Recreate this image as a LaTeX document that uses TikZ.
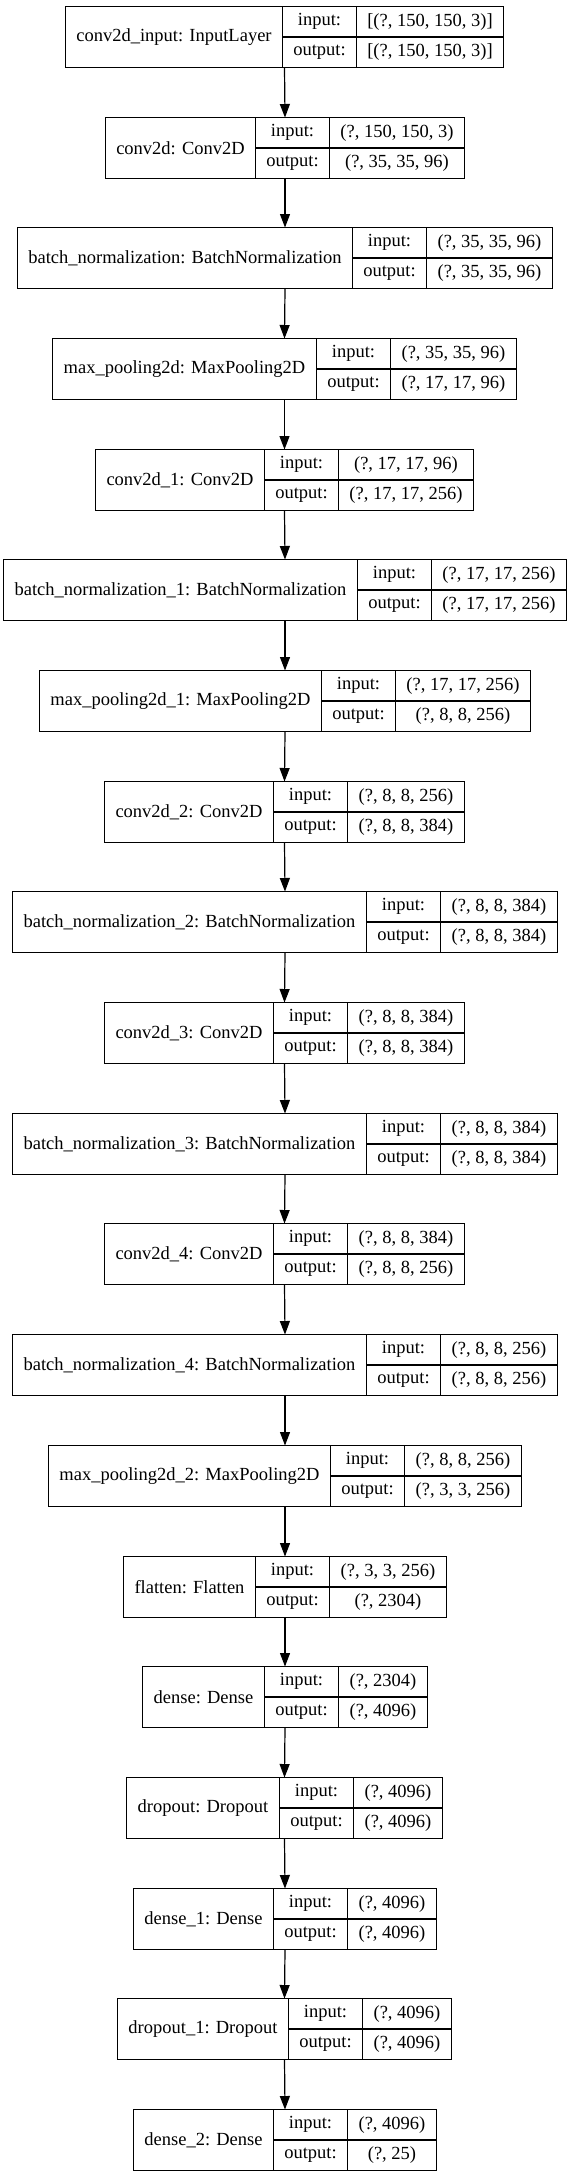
\documentclass[tikz,border=0pt]{standalone}
\usepackage{fontspec}
\setmainfont{Liberation Serif}
\usetikzlibrary{arrows.meta,fit}
\newlength\lwA \newlength\lwB \newlength\lwC \newlength\lwT
\newcommand\lfont{\fontsize{18.5}{22}\selectfont}
\tikzset{
  cell/.style={draw=black, line width=1.2pt, inner sep=0pt, outer sep=0pt, font=\lfont, text=black},
  arr/.style={line width=1.2pt, -{Triangle[length=13.5pt, width=10pt]}},
}
\newcommand\measurelayer[5]{%
 \settowidth\lwA{\lfont #3}\addtolength\lwA{22pt}%
 \settowidth\lwB{\lfont output:}\addtolength\lwB{22pt}%
 \settowidth\lwC{\lfont #4}\settowidth\lwT{\lfont #5}%
 \ifdim\lwT>\lwC \lwC=\lwT\fi \addtolength\lwC{22pt}%
 \expandafter\xdef\csname #1wA\endcsname{\the\lwA}%
 \expandafter\xdef\csname #1wB\endcsname{\the\lwB}%
 \expandafter\xdef\csname #1wC\endcsname{\the\lwC}%
}
\newcommand\drawlayer[5]{%
 \pgfmathsetmacro\wa{round(\csname #1wA\endcsname)}%
 \pgfmathsetmacro\wb{round(\csname #1wB\endcsname)}%
 \pgfmathsetmacro\wc{round(\csname #1wC\endcsname)}%
 \pgfmathsetmacro\lx{round(284-(\wa+\wb+\wc)/2)+0.5}%
 \pgfmathsetmacro\ly{-(round(6+110.68*#2)+0.5)}%
 \node[cell, minimum width=\wa pt, minimum height=61pt, anchor=north west] (#1-l) at (\lx pt,\ly pt) {#3};
 \node[cell, minimum width=\wb pt, minimum height=30.5pt, anchor=north west] (#1-ik) at (#1-l.north east) {input:};
 \node[cell, minimum width=\wb pt, minimum height=30.5pt, anchor=north west] (#1-ok) at (#1-ik.south west) {output:};
 \node[cell, minimum width=\wc pt, minimum height=30.5pt, anchor=north west] (#1-iv) at (#1-ik.north east) {#4};
 \node[cell, minimum width=\wc pt, minimum height=30.5pt, anchor=north west] (#1-ov) at (#1-iv.south west) {#5};
 \node[fit=(#1-l)(#1-iv)(#1-ov), inner sep=0pt, outer sep=0pt] (#1) {};
}
\newcommand\alllayers{%
\L{n0}{0}{conv2d\_input: InputLayer}{[(?, 150, 150, 3)]}{[(?, 150, 150, 3)]}
\L{n1}{1}{conv2d: Conv2D}{(?, 150, 150, 3)}{(?, 35, 35, 96)}
\L{n2}{2}{batch\_normalization: BatchNormalization}{(?, 35, 35, 96)}{(?, 35, 35, 96)}
\L{n3}{3}{max\_pooling2d: MaxPooling2D}{(?, 35, 35, 96)}{(?, 17, 17, 96)}
\L{n4}{4}{conv2d\_1: Conv2D}{(?, 17, 17, 96)}{(?, 17, 17, 256)}
\L{n5}{5}{batch\_normalization\_1: BatchNormalization}{(?, 17, 17, 256)}{(?, 17, 17, 256)}
\L{n6}{6}{max\_pooling2d\_1: MaxPooling2D}{(?, 17, 17, 256)}{(?, 8, 8, 256)}
\L{n7}{7}{conv2d\_2: Conv2D}{(?, 8, 8, 256)}{(?, 8, 8, 384)}
\L{n8}{8}{batch\_normalization\_2: BatchNormalization}{(?, 8, 8, 384)}{(?, 8, 8, 384)}
\L{n9}{9}{conv2d\_3: Conv2D}{(?, 8, 8, 384)}{(?, 8, 8, 384)}
\L{n10}{10}{batch\_normalization\_3: BatchNormalization}{(?, 8, 8, 384)}{(?, 8, 8, 384)}
\L{n11}{11}{conv2d\_4: Conv2D}{(?, 8, 8, 384)}{(?, 8, 8, 256)}
\L{n12}{12}{batch\_normalization\_4: BatchNormalization}{(?, 8, 8, 256)}{(?, 8, 8, 256)}
\L{n13}{13}{max\_pooling2d\_2: MaxPooling2D}{(?, 8, 8, 256)}{(?, 3, 3, 256)}
\L{n14}{14}{flatten: Flatten}{(?, 3, 3, 256)}{(?, 2304)}
\L{n15}{15}{dense: Dense}{(?, 2304)}{(?, 4096)}
\L{n16}{16}{dropout: Dropout}{(?, 4096)}{(?, 4096)}
\L{n17}{17}{dense\_1: Dense}{(?, 4096)}{(?, 4096)}
\L{n18}{18}{dropout\_1: Dropout}{(?, 4096)}{(?, 4096)}
\L{n19}{19}{dense\_2: Dense}{(?, 4096)}{(?, 25)}
}
\begin{document}
\let\L\measurelayer\alllayers
\begin{tikzpicture}
\fill[white] (0,0) rectangle (567pt,-2176pt);
\useasboundingbox (0,0) rectangle (567pt,-2176pt);
\let\L\drawlayer\alllayers
\foreach \i [evaluate=\i as \j using int(\i+1)] in {0,...,18}
  \draw[arr] (n\i.south) -- (n\j.north);
\end{tikzpicture}
\end{document}
